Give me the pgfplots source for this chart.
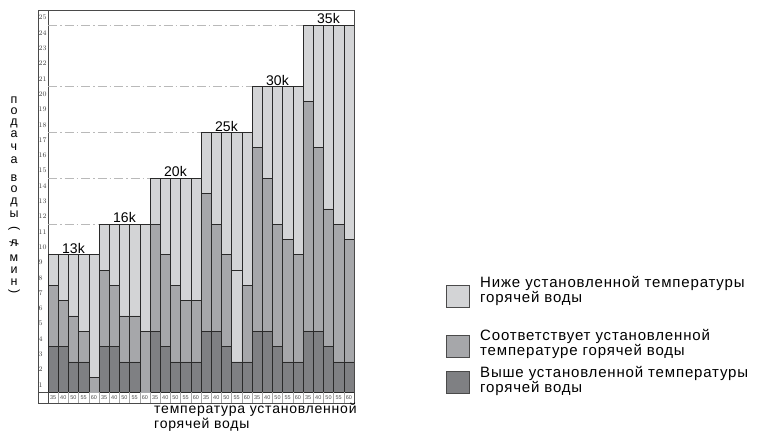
\documentclass[border=0pt]{standalone}
\usepackage{fontspec}
\setmainfont{Liberation Sans}
\newfontfamily\spaced[LetterSpace=5.5]{Liberation Sans}
\usepackage{pgfplots}
\usepackage{pgfplotstable}
\pgfplotsset{compat=1.18}

\definecolor{lowc}{HTML}{D3D4D6}
\definecolor{midc}{HTML}{A6A7AA}
\definecolor{hic}{HTML}{7F8083}
\definecolor{framec}{HTML}{4A4A4A}
\definecolor{barc}{HTML}{2A2A2A}

% heights of each slice, stacked from the bottom (l/min)
\pgfplotstableread{
x  dark mid midlight light
1  3.5  4    0  2
2  3.5  3    0  3
3  2.5  3    0  4
4  2.5  2    0  5
5  0    1.5  0  8
6  3.5  5    0  3
7  3.5  4    0  4
8  2.5  3    0  6
9  2.5  3    0  6
10 0    4.5  0  7
11 4.5  7    0  3
12 3.5  6    0  5
13 2.5  5    0  7
14 2.5  4    0  8
15 2.5  4    0  8
16 4.5  9    0  4
17 4.5  7    0  6
18 3.5  6    0  8
19 2.5  0    6  9
20 2.5  5    0  10
21 4.5  12   0  4
22 4.5  10   0  6
23 3.5  8    0  9
24 2.5  8    0  10
25 2.5  7    0  11
26 4.5  15   0  5
27 4.5  12   0  8
28 3.5  9    0  12
29 2.5  9    0  13
30 2.5  8    0  14
}\flowdata

\begin{document}
\begin{tikzpicture}[x=1pt,y=1pt,
  refline/.style={gray!55, line width=0.7pt,
    dash pattern=on 9pt off 3pt on 1.5pt off 3pt},
  grp/.style={anchor=south, font=\fontsize{14}{14}\selectfont, inner sep=1pt},
  vl/.style={font=\fontsize{12.5}{12.5}\selectfont, inner sep=0pt}]
\useasboundingbox (0,0) rectangle (760,439);
\begin{axis}[
  at={(48pt,46.5pt)}, anchor=south west,
  width=306pt, height=382.5pt, scale only axis,
  xmin=0.5, xmax=30.5, ymin=0.5, ymax=25.5,
  ybar stacked, bar width=1,
  clip mode=individual,
  axis line style={framec, line width=0.8pt},
  major tick length=0pt,
  ytick={1,...,25},
  yticklabel style={font=\fontsize{7}{7}\selectfont, text=black!75,
    anchor=west, xshift=-10pt, inner sep=0.5pt},
  xtick={1,...,30},
  xticklabels={35,40,50,55,60,35,40,50,55,60,35,40,50,55,60,
               35,40,50,55,60,35,40,50,55,60,35,40,50,55,60},
  xticklabel style={font=\fontsize{5.5}{5.5}\selectfont, text=black!70,
    anchor=center, yshift=-5.3pt, inner sep=0pt},
]
\addplot[fill=hic, draw=barc, line width=0.6pt] table[x=x, y=dark] {\flowdata};
\addplot[fill=midc, draw=barc, line width=0.6pt] table[x=x, y=mid] {\flowdata};
\addplot[fill=lowc, draw=barc, line width=0.6pt] table[x=x, y=midlight] {\flowdata};
\addplot[fill=lowc, draw=barc, line width=0.6pt] table[x=x, y=light] {\flowdata};

\draw[refline] (axis cs:0.5,11.5) -- (axis cs:5.5,11.5);
\draw[refline] (axis cs:0.5,14.5) -- (axis cs:10.5,14.5);
\draw[refline] (axis cs:0.5,17.5) -- (axis cs:15.5,17.5);
\draw[refline] (axis cs:0.5,20.5) -- (axis cs:20.5,20.5);
\draw[refline] (axis cs:0.5,24.5) -- (axis cs:25.5,24.5);

\node[grp] at (axis cs:3,9.5) {13k};
\node[grp] at (axis cs:8,11.5) {16k};
\node[grp] at (axis cs:13,14.5) {20k};
\node[grp] at (axis cs:18,17.5) {25k};
\node[grp] at (axis cs:23,20.5) {30k};
\node[grp] at (axis cs:28,24.5) {35k};
\end{axis}

% label column and tick-label row
\draw[framec, line width=0.8pt] (38,36) rectangle (354,429);
\draw[framec, line width=0.8pt] (38,46.5) -- (48,46.5);
\draw[framec, line width=0.8pt] (48,36) -- (48,46.5);
\foreach \k in {1,...,29}
  \draw[gray!70, line width=0.4pt] ({48+\k*10.2},36) -- ({48+\k*10.2},46.5);

% vertical axis title, letters stacked one under another
\foreach \c/\yy in {п/100, о/111, д/122, а/134, ч/147, а/160,
                    в/178, о/189, д/201, ы/214,
                    л/243, м/258, и/270, н/282}
  \node[vl, anchor=base] at (14,439-\yy-3.3) {\c};
\node[vl, rotate=-90] at (14,439-229) {(};
\node[vl, rotate=-90] at (14,439-243) {/};
\node[vl, rotate=-90] at (14,439-292) {)};

% horizontal axis title
\node[anchor=north west, align=left, inner sep=0pt,
      font=\spaced\fontsize{14}{15}\selectfont] at (154,439-403)
  {температура установленной\\горячей воды};

% legend
\draw[framec, fill=lowc, line width=0.7pt] (446,439-307) rectangle (469,439-285);
\draw[framec, fill=midc, line width=0.7pt] (446,439-357) rectangle (469,439-335);
\draw[framec, fill=hic, line width=0.7pt] (446,439-393) rectangle (469,439-371);
\begin{scope}[every node/.style={anchor=north west, align=left, inner sep=0pt,
      font=\spaced\fontsize{15}{13.5}\selectfont}]
\node at (480,439-276) {Ниже установленной температуры\\горячей воды};
\node at (480,439-329) {Соответствует установленной\\температуре горячей воды};
\node at (480,439-366) {Выше установленной температуры\\горячей воды};
\end{scope}
\end{tikzpicture}
\end{document}
